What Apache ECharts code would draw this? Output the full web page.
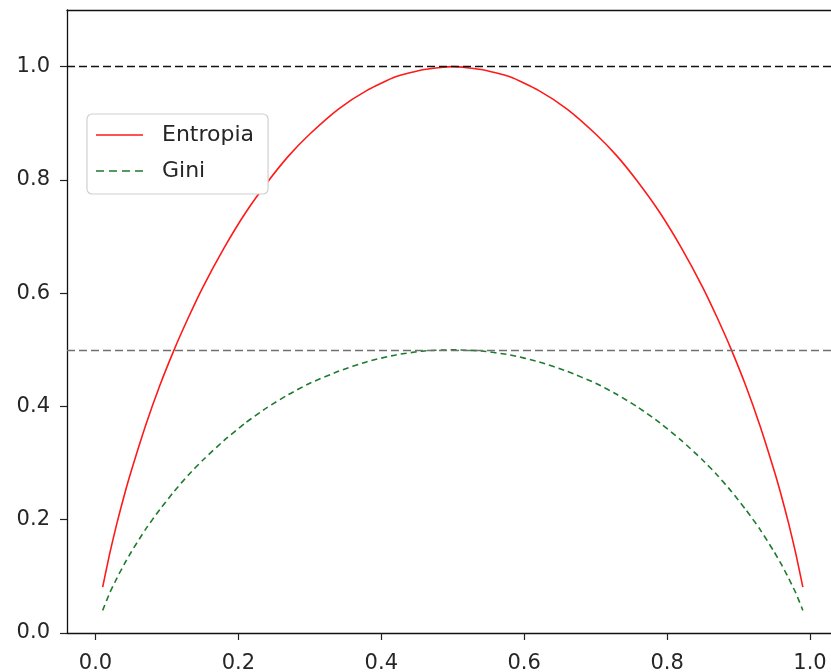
<!DOCTYPE html>
<html><head><meta charset="utf-8">
<script src="https://cdn.jsdelivr.net/npm/echarts@6/dist/echarts.min.js"></script>
<style>html,body{margin:0;padding:0;background:#fff}#c{width:831px;height:672px}</style>
</head><body><div id="c"></div>
<script>
const xValues = [0.01,0.02,0.03,0.04,0.05,0.07,0.09,0.11,0.13,0.15,0.18,0.21,0.24,0.27,0.30,0.34,0.38,0.42,0.46,0.50,
  0.54,0.58,0.62,0.66,0.70,0.73,0.76,0.79,0.82,0.85,0.87,0.89,0.91,0.93,0.95,0.96,0.97,0.98,0.99];
const entropia = [0.081,0.141,0.194,0.242,0.286,0.366,0.437,0.500,0.557,0.610,0.680,0.742,0.795,0.842,0.881,0.925,0.958,0.982,0.995,1.000,
  0.995,0.982,0.958,0.925,0.881,0.842,0.795,0.742,0.680,0.610,0.557,0.500,0.437,0.366,0.286,0.242,0.194,0.141,0.081];
const gini = [0.040,0.071,0.097,0.121,0.143,0.183,0.218,0.250,0.279,0.305,0.340,0.371,0.398,0.421,0.441,0.462,0.479,0.491,0.498,0.500,
  0.498,0.491,0.479,0.462,0.441,0.421,0.398,0.371,0.340,0.305,0.279,0.250,0.218,0.183,0.143,0.121,0.097,0.071,0.040];
const xTicks = [0.0,0.2,0.4,0.6,0.8,1.0];
const yTicks = [0.0,0.2,0.4,0.6,0.8,1.0];
const refLines = [1.0, 0.5];
const seriesNames = ['Entropia','Gini'];

const font = 'DejaVu Sans';
const red = '#ff1a1a', green = '#1e7a2e';
const spine = {show:true, onZero:false, lineStyle:{color:'#111', width:1.3}};
const chart = echarts.init(document.getElementById('c'));
chart.setOption({
  animation:false,
  backgroundColor:'#fff',
  grid:{left:67, top:10, width:764, height:623, outerBoundsMode:'none', containLabel:false, show:false},
  xAxis:[{type:'value', min:-0.0399, max:1.0294, position:'bottom',
    axisLine:spine, splitLine:{show:false},
    axisTick:{show:true, inside:false, length:7, lineStyle:{color:'#222', width:1.2}, customValues:xTicks},
    axisLabel:{customValues:xTicks, margin:20, fontFamily:font, fontSize:21, color:'#262626', formatter:v=>v.toFixed(1)}},
    {type:'value', min:-0.0399, max:1.0294, position:'top',
    axisLine:spine, splitLine:{show:false}, axisTick:{show:false}, axisLabel:{show:false}}],
  yAxis:{type:'value', min:0, max:1.1,
    axisLine:spine, splitLine:{show:false},
    axisTick:{show:true, inside:false, length:7, lineStyle:{color:'#222', width:1.2}, customValues:yTicks},
    axisLabel:{customValues:yTicks, margin:17, fontFamily:font, fontSize:21, color:'#262626', formatter:v=>v.toFixed(1)}},
  legend:{orient:'vertical', left:87, top:114, itemWidth:47, itemHeight:1.6, itemGap:14,
    symbolKeepAspect:false,
    padding:[10,14,12,9], backgroundColor:'#fff', borderColor:'#d0d0d0', borderWidth:1.2, borderRadius:5,
    textStyle:{fontFamily:font, fontSize:22, color:'#262626', padding:[0,0,0,14]},
    data:[
      {name:seriesNames[0], icon:'rect', itemStyle:{color:red}},
      {name:seriesNames[1], icon:'path://M0,0L8,0L8,1L0,1Z M13,0L21,0L21,1L13,1Z M26,0L34,0L34,1L26,1Z M39,0L47,0L47,1L39,1Z', itemStyle:{color:green}}
    ]},
  series:[
    {name:seriesNames[0], type:'line', data:xValues.map((x,i)=>[x,entropia[i]]), symbol:'none', smooth:0.2,
      lineStyle:{color:red, width:1.6}, itemStyle:{color:red}, z:3,
      markLine:{silent:true, symbol:'none', label:{show:false},
        data:[{yAxis:refLines[0], lineStyle:{color:'#111', type:[8,4], width:1.4}},
              {yAxis:refLines[1], lineStyle:{color:'#707070', type:[8,4], width:1.4}}]}},
    {name:seriesNames[1], type:'line', data:xValues.map((x,i)=>[x,gini[i]]), symbol:'none', smooth:0.2,
      lineStyle:{color:green, width:1.6, type:[6,4]}, itemStyle:{color:green}, z:3}
  ]
});
</script></body></html>
